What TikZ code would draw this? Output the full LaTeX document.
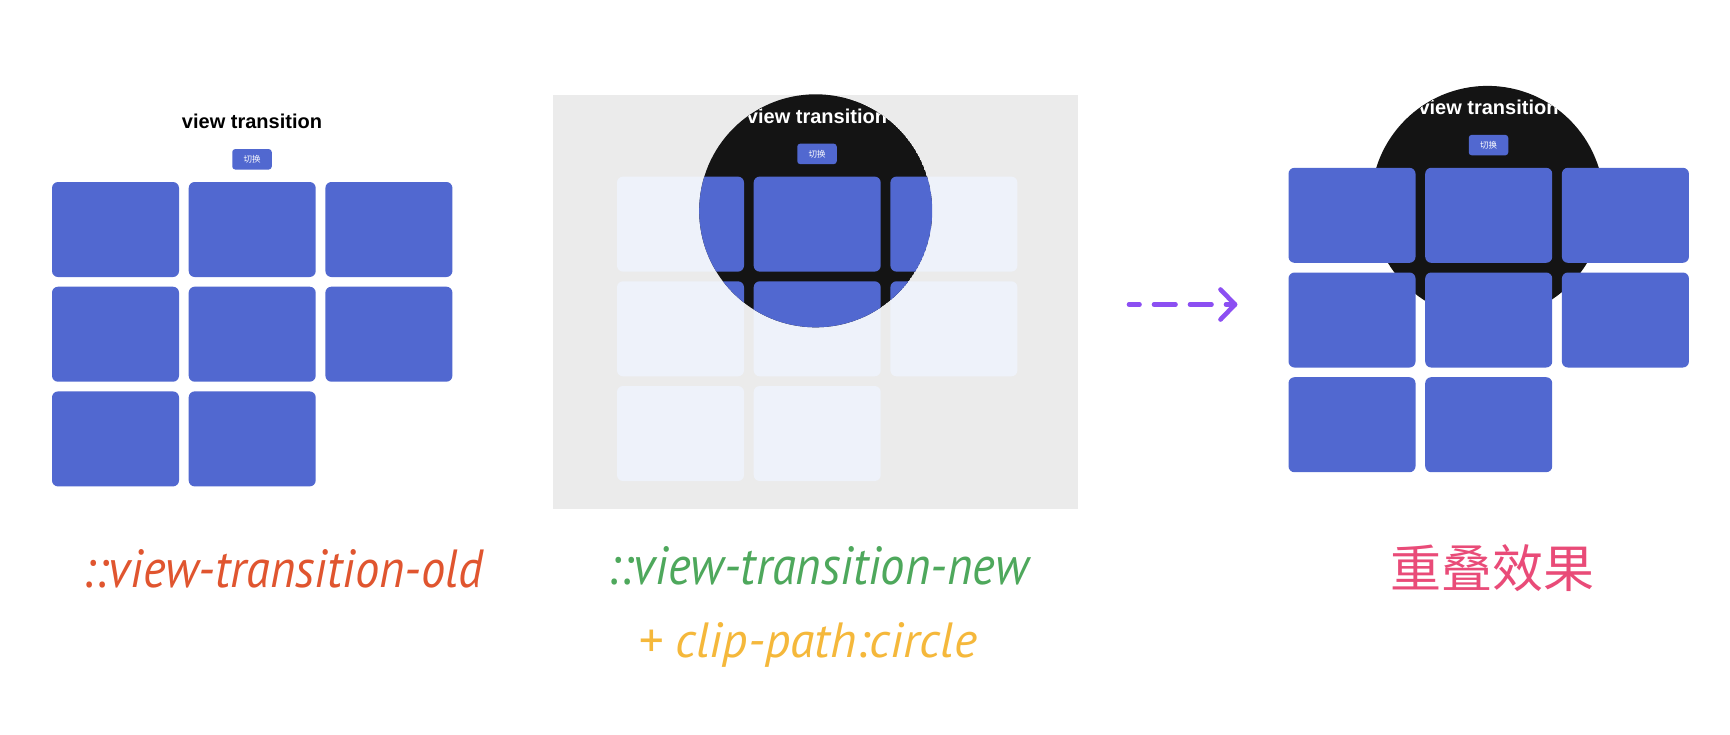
\documentclass[tikz,border=0pt]{standalone}
\usepackage{graphicx}
\usepackage{fontspec}
\setmainfont{Liberation Sans}
\newfontfamily\cjkfont{Noto Sans CJK SC}
\newfontfamily\handfont{PT Sans}
\usetikzlibrary{calc}
\definecolor{cardblue}{HTML}{5168D0}
\definecolor{cardlight}{HTML}{EEF2FA}
\definecolor{greybg}{HTML}{EBEBEB}
\definecolor{darkbg}{HTML}{141414}
\definecolor{oldred}{HTML}{E0552F}
\definecolor{newgreen}{HTML}{4EA85C}
\definecolor{clipyellow}{HTML}{F5B83B}
\definecolor{resultpink}{HTML}{E94B78}
\definecolor{arrowpurple}{HTML}{8C4FF2}
\tikzset{
  card/.style={fill=cardblue, rounded corners=6pt, minimum width=127pt, minimum height=95pt, inner sep=0pt, draw=none},
  lightcard/.style={card, fill=cardlight},
  btn/.style={fill=cardblue, rounded corners=3pt, minimum width=39.5pt, minimum height=20.5pt, inner sep=0pt, text=white, font=\cjkfont\fontsize{8.5}{9}\selectfont},
  pagetitle/.style={font=\bfseries\fontsize{20}{24}\selectfont, inner sep=0pt, anchor=base},
  handlabel/.style={inner sep=0pt, anchor=base west},
  dasharrow/.style={arrowpurple, line width=4.6pt, line cap=round, line join=round}
}
\newcommand\cardgrid[4]{%
  \foreach \r/\c [count=\k] in {0/0,0/1,0/2,1/0,1/1,1/2,2/0,2/1}{%
    \node[#4] (#1\k) at ({#2+63.5+136.7*\c},{#3+47.5+104.7*\r}) {};
  }%
}
\begin{document}
\begin{tikzpicture}[x=1pt,y=-1pt]
\useasboundingbox (0,0) rectangle (1730,734);
\fill[white] (0,0) rectangle (1730,734);

% ---------- Panel 1: old page ----------
\cardgrid{pa}{52}{182}{card}
\node[pagetitle, text=black] (p1title) at (252,128.5) {view transition};
\node[btn] (p1btn) at (252,159.3) {切换};

% ---------- Panel 2: new page + clip-path circle ----------
\node[fill=greybg, minimum width=525.2pt, minimum height=414.3pt, inner sep=0pt, anchor=north west] (p2bg) at (552.8,94.3) {};
\cardgrid{pl}{617}{176.6}{lightcard}
\begin{scope}
  \clip (815.7,210.8) circle[radius=116.5];
  \fill[darkbg] (815.7,210.8) circle[radius=116.5];
  \cardgrid{pb}{617}{176.6}{card}
  \node[pagetitle, text=white] (p2title) at (817,123.1) {view transition};
  \node[btn] (p2btn) at (817,153.9) {切换};
\end{scope}

% ---------- Arrow ----------
\coordinate (arrS) at (1129,304.5);
\coordinate (arrE) at (1235,304.5);
\draw[dasharrow, dash pattern=on 21.5pt off 14.5pt, dash phase=11pt] (arrS) -- (arrE);
\draw[dasharrow] ($(arrE)+(-14.5,-15)$) -- (arrE) -- ($(arrE)+(-14.5,15)$);

% ---------- Panel 3: overlay result ----------
\fill[darkbg] (1487.5,202.4) circle[radius=116.5];
\begin{scope}
  \clip (1487.5,202.4) circle[radius=116.5];
  \node[pagetitle, text=white] (p3title) at (1488.5,114.3) {view transition};
\end{scope}
\node[btn] (p3btn) at (1488.5,145.1) {切换};
\cardgrid{pc}{1288.5}{167.8}{card}

% ---------- Labels ----------
\node[handlabel, text=oldred] (lold) at (82.7,587.5)
  {\resizebox{400.6pt}{38pt}{\handfont\itshape\vphantom{l}::view-transition-old}};
\node[handlabel, text=newgreen] (lnew) at (607.7,584)
  {\resizebox{420.6pt}{38pt}{\handfont\itshape\vphantom{l}::view-transition-new}};
\node[handlabel, text=clipyellow] (lclip) at (638.3,657)
  {\resizebox{338.4pt}{35pt}{\handfont\itshape\vphantom{l}+ clip-path:circle}};
\node[text=resultpink, inner sep=0pt, font=\cjkfont\fontsize{51}{51}\selectfont] (lres) at (1492.5,568.4) {重叠效果};
\end{tikzpicture}
\end{document}
